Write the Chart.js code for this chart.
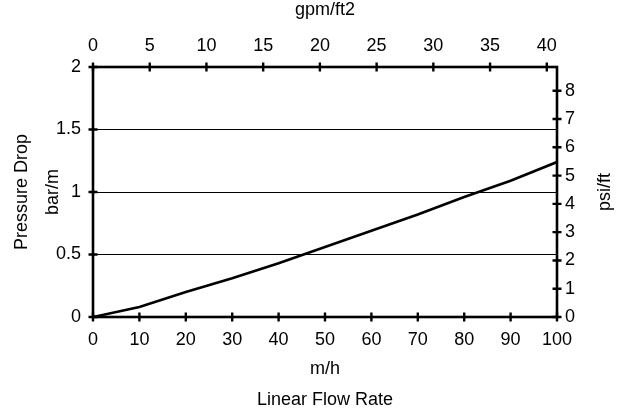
<!DOCTYPE html>
<html><head><meta charset="utf-8">
<script src="https://cdn.jsdelivr.net/npm/chart.js@4"></script>
<style>html,body{margin:0;padding:0;background:#fff}#c{display:block}</style>
</head><body>
<canvas id="c" width="620" height="417"></canvas>
<script>
const flowRate = [0,10,20,30,40,50,60,70,80,90,100];
const pressureDrop = [0,0.08,0.2,0.31,0.43,0.56,0.69,0.82,0.96,1.09,1.24];
const gpmMax = 100/2.445;   // top axis range in gpm/ft2
const psiMax = 2*4.42;      // right axis range in psi/ft
const FONT = 'Liberation Sans, Arial, sans-serif';
const FS = 18;
const plain = v => String(v);

const frameTicks = {
  id:'frameTicks',
  afterDraw(chart){
    const {ctx, chartArea:a, scales} = chart;
    ctx.save();
    ctx.strokeStyle='#000';
    ctx.lineWidth=2.6;
    ctx.strokeRect(a.left,a.top,a.right-a.left,a.bottom-a.top);
    ctx.lineWidth=2.4;
    const L=4.5;
    ctx.beginPath();
    scales.x.ticks.forEach(t=>{const p=scales.x.getPixelForValue(t.value);ctx.moveTo(p,a.bottom-L);ctx.lineTo(p,a.bottom+L);});
    scales.x2.ticks.forEach(t=>{const p=scales.x2.getPixelForValue(t.value);ctx.moveTo(p,a.top-L);ctx.lineTo(p,a.top+L);});
    scales.y.ticks.forEach(t=>{const p=scales.y.getPixelForValue(t.value);ctx.moveTo(a.left-L,p);ctx.lineTo(a.left+L,p);});
    scales.y2.ticks.forEach(t=>{const p=scales.y2.getPixelForValue(t.value);ctx.moveTo(a.right-L,p);ctx.lineTo(a.right+L,p);});
    ctx.stroke();
    // right axis title, reading upward
    ctx.fillStyle='#000';
    ctx.font = FS+'px '+FONT;
    ctx.textAlign='center';ctx.textBaseline='middle';
    ctx.translate(605,(a.top+a.bottom)/2);
    ctx.rotate(-Math.PI/2);
    ctx.fillText('psi/ft',0,0);
    ctx.restore();
  }
};

new Chart(document.getElementById('c'),{
  type:'line',
  data:{datasets:[{
    data: flowRate.map((x,i)=>({x, y: pressureDrop[i]})),
    borderColor:'#000', borderWidth:2.6, pointRadius:0, tension:0, fill:false,
    xAxisID:'x', yAxisID:'y'
  }]},
  options:{
    responsive:false, animation:false, events:[],
    layout:{padding:0},
    plugins:{legend:{display:false},tooltip:{enabled:false}},
    scales:{
      x:{type:'linear',position:'bottom',min:0,max:100,
        ticks:{stepSize:10,color:'#000',font:{family:FONT,size:FS},padding:12,maxRotation:0,callback:plain},
        grid:{display:false,drawTicks:false}, border:{display:false},
        title:{display:true,text:['m/h','Linear Flow Rate'],color:'#000',font:{family:FONT,size:FS,lineHeight:1.75},padding:{top:0,bottom:1}},
        afterFit(s){s.height=100;}
      },
      x2:{type:'linear',position:'top',min:0,max:gpmMax,display:true,
        ticks:{stepSize:5,includeBounds:false,color:'#000',font:{family:FONT,size:FS},padding:10,maxRotation:0,callback:plain},
        grid:{display:false,drawTicks:false}, border:{display:false},
        title:{display:true,text:'gpm/ft2',color:'#000',font:{family:FONT,size:FS,lineHeight:1.15},padding:{top:0,bottom:0}},
        afterFit(s){s.height=67;}
      },
      y:{type:'linear',position:'left',min:0,max:2,
        ticks:{stepSize:0.5,color:'#000',font:{family:FONT,size:FS},padding:12,callback:plain},
        grid:{display:true,drawTicks:false,color:'#000',lineWidth:1}, border:{display:false},
        title:{display:true,text:['Pressure Drop','bar/m'],color:'#000',font:{family:FONT,size:FS,lineHeight:1.75},padding:{top:6,bottom:0}},
        afterFit(s){s.width=93;}
      },
      y2:{type:'linear',position:'right',min:0,max:psiMax,display:true,
        ticks:{stepSize:1,includeBounds:false,color:'#000',font:{family:FONT,size:FS},padding:8,callback:plain},
        grid:{display:false,drawTicks:false}, border:{display:false},
        title:{display:false},
        afterFit(s){s.width=63;}
      }
    }
  },
  plugins:[frameTicks]
});
</script>
</body></html>
